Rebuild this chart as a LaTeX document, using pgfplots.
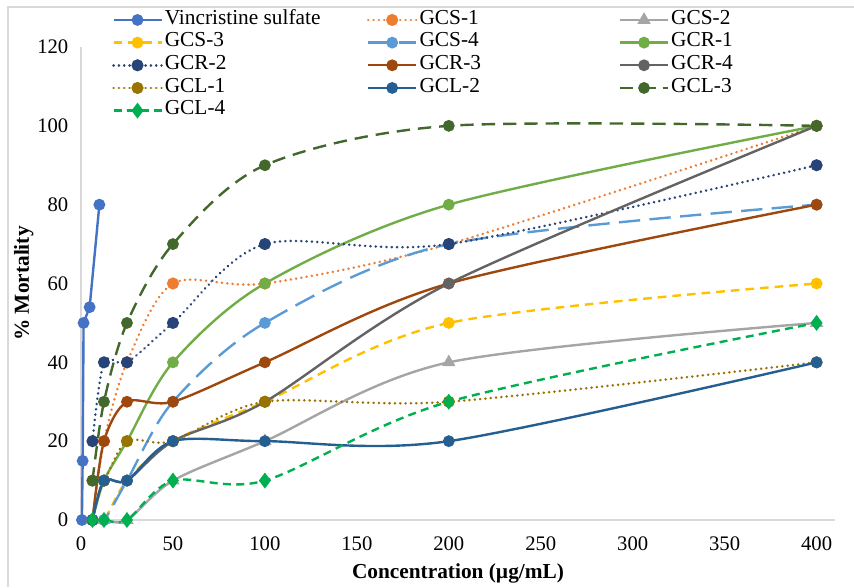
\documentclass[border=0pt]{standalone}
\usepackage{fontspec}
\setmainfont{Liberation Serif}
\usepackage{pgfplots}
\pgfplotsset{compat=1.18}
\definecolor{cVin}{HTML}{4472C4}
\definecolor{cGCSa}{HTML}{ED7D31}
\definecolor{cGCSb}{HTML}{A5A5A5}
\definecolor{cGCSc}{HTML}{FFC000}
\definecolor{cGCSd}{HTML}{5B9BD5}
\definecolor{cGCRa}{HTML}{70AD47}
\definecolor{cGCRb}{HTML}{264478}
\definecolor{cGCRc}{HTML}{9E480E}
\definecolor{cGCRd}{HTML}{636363}
\definecolor{cGCLa}{HTML}{997300}
\definecolor{cGCLb}{HTML}{255E91}
\definecolor{cGCLc}{HTML}{43682B}
\definecolor{cGCLd}{HTML}{00B050}
\definecolor{AxisGray}{HTML}{D9D9D9}
\newcommand{\fs}{\fontsize{15.5}{17}\selectfont}
\newcommand{\fl}{\fontsize{16}{18}\selectfont}
\tikzset{
  rdot/.style={dash pattern=on 0.1pt off 3.9pt,line cap=round,line width=2pt},
  ser/.style={color=#1,mark options={solid,fill=#1,draw=#1}}
}
\begin{document}
\begin{tikzpicture}
\begin{axis}[
  scale only axis,
  width=565.5pt,
  height=354.75pt,
  xmin=0, xmax=410,
  ymin=0, ymax=120,
  xtick={0,50,...,400},
  ytick={0,20,...,120},
  axis x line*=bottom,
  axis y line*=left,
  axis line style={draw=AxisGray,line width=1pt,-},
  major tick length=0pt,
  tick label style={font=\fs},
  /pgf/number format/assume math mode=true,
  yticklabel style={xshift=-6pt},
  xticklabel style={yshift=-9pt},
  xlabel={Concentration (µg/mL)},
  ylabel={\% Mortality},
  every axis x label/.style={at={(axis description cs:0.5,-0.112)},anchor=center,font=\bfseries\fl},
  every axis y label/.style={at={(axis description cs:-0.076,0.5)},rotate=90,anchor=center,font=\bfseries\fl},
  clip=false,
  every axis plot/.append style={line width=1.8pt,mark size=3.5pt},
  legend columns=3,
  legend image code/.code={\draw[mark repeat=2,mark phase=2,#1] plot coordinates {(0pt,0pt) (18pt,0pt) (36pt,0pt)};},
  legend style={at={(axis description cs:0.041,1.081)},anchor=north west,draw=none,fill=none,
    font=\fl,inner sep=0pt,row sep=0.5pt,column sep=0pt,
    nodes={inner sep=1.5pt,text height=10pt,text depth=3.5pt}},
  legend cell align=left,
]
\addplot[ser=cVin,mark=*] coordinates {(0.5,0) (0.9,15) (1.4,50) (4.7,54) (10,80)};
\addplot[ser=cGCSa,rdot,smooth,mark=*] coordinates {(6.25,0) (12.5,20) (25,40) (50,60) (100,60) (200,70) (400,100)};
\addplot[ser=cGCSb,smooth,mark=triangle*,mark size=4pt] coordinates {(6.25,0) (12.5,0) (25,0) (50,10) (100,20) (200,40) (400,50)};
\addplot[ser=cGCSc,dash pattern=on 6.5pt off 4.5pt,smooth,mark=*] coordinates {(6.25,0) (12.5,0) (25,10) (50,20) (100,30) (200,50) (400,60)};
\addplot[ser=cGCSd,dash pattern=on 16pt off 7pt,smooth,mark=*] coordinates {(6.25,0) (12.5,0) (25,10) (50,30) (100,50) (200,70) (400,80)};
\addplot[ser=cGCRa,smooth,mark=*] coordinates {(6.25,0) (12.5,10) (25,20) (50,40) (100,60) (200,80) (400,100)};
\addplot[ser=cGCRb,rdot,smooth,mark=*] coordinates {(6.25,20) (12.5,40) (25,40) (50,50) (100,70) (200,70) (400,90)};
\addplot[ser=cGCRc,smooth,mark=*] coordinates {(6.25,0) (12.5,20) (25,30) (50,30) (100,40) (200,60) (400,80)};
\addplot[ser=cGCRd,smooth,mark=*] coordinates {(6.25,0) (12.5,10) (25,10) (50,20) (100,30) (200,60) (400,100)};
\addplot[ser=cGCLa,rdot,smooth,mark=*] coordinates {(6.25,10) (12.5,10) (25,20) (50,20) (100,30) (200,30) (400,40)};
\addplot[ser=cGCLb,smooth,mark=*] coordinates {(6.25,0) (12.5,10) (25,10) (50,20) (100,20) (200,20) (400,40)};
\addplot[ser=cGCLc,dash pattern=on 10pt off 6pt,smooth,mark=*] coordinates {(6.25,10) (12.5,30) (25,50) (50,70) (100,90) (200,100) (400,100)};
\addplot[ser=cGCLd,dash pattern=on 6pt off 4pt,smooth,mark=diamond*,mark size=4.5pt] coordinates {(6.25,0) (12.5,0) (25,0) (50,10) (100,10) (200,30) (400,50)};
\legend{\makebox[150pt][l]{Vincristine sulfate},\makebox[148pt][l]{GCS-1},GCS-2,
  GCS-3,GCS-4,GCR-1,GCR-2,GCR-3,GCR-4,GCL-1,GCL-2,GCL-3,GCL-4}
\end{axis}
\draw[AxisGray,line width=1.5pt] (-54.75pt,-50.25pt) -- (-54.75pt,384.75pt) -- (579.75pt,384.75pt);
\pgfresetboundingbox
\path[use as bounding box] (-60.75pt,-50.25pt) rectangle (579.75pt,390pt);
\end{tikzpicture}
\end{document}
